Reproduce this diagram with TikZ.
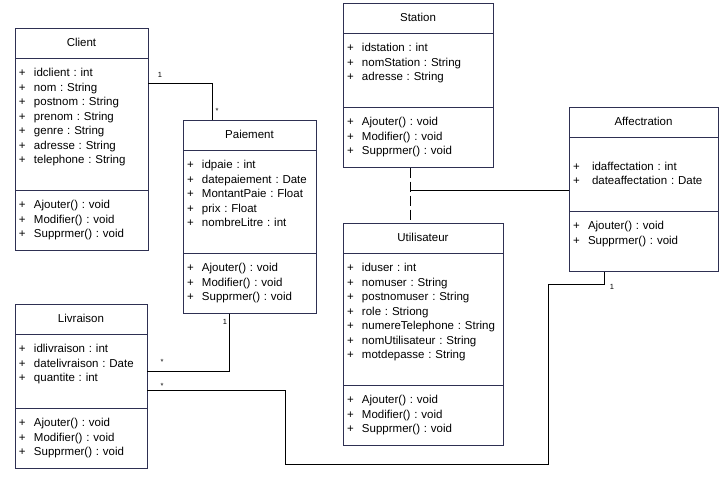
\documentclass[tikz,border=0pt]{standalone}
\usepackage{fontspec}
\setmainfont{Liberation Sans}[BoldFont={Liberation Sans}]
\usepackage{pgf-umlcd}
\usetikzlibrary{positioning}

\definecolor{umlborder}{RGB}{46,48,82}
\def\umldrawcolor{umlborder}
\def\umlfillcolor{white}
\def\umltextcolor{black}

\protected\def\umlattr#1{\strut\makebox[15pt][l]{+}#1}
\protected\def\umlblank{\strut}

\tikzset{
  classbox/.style={inner xsep=4pt, inner ysep=7.5pt, line width=0.9pt,
    font=\fontsize{11.5}{14.5}\selectfont\frenchspacing\noindent\strut},
  multlabel/.style={font=\fontsize{7.5}{8}\selectfont, inner sep=0pt},
  assoc/.style={line width=0.8pt},
}

\begin{document}
\begin{tikzpicture}[x=1pt,y=-1pt]
\useasboundingbox (0,0) rectangle (723,477);

\begin{class}[classbox, text width=125pt]{Client}{81.5,28}
\attribute {\umlattr{idclient : int}}
\attribute {\umlattr{nom : String}}
\attribute {\umlattr{postnom : String}}
\attribute {\umlattr{prenom : String}}
\attribute {\umlattr{genre : String}}
\attribute {\umlattr{adresse : String}}
\attribute {\umlattr{telephone : String}}
\attribute {\umlblank}

\operation {\umlattr{Ajouter() : void}}
\operation {\umlattr{Modifier() : void}}
\operation {\umlattr{Supprmer() : void}}
\end{class}

\begin{class}[classbox, text width=125pt]{Paiement}{249.5,120}
\attribute {\umlattr{idpaie : int}}
\attribute {\umlattr{datepaiement : Date}}
\attribute {\umlattr{MontantPaie : Float}}
\attribute {\umlattr{prix : Float}}
\attribute {\umlattr{nombreLitre : int}}
\attribute {\umlblank}

\operation {\umlattr{Ajouter() : void}}
\operation {\umlattr{Modifier() : void}}
\operation {\umlattr{Supprmer() : void}}
\end{class}

\begin{class}[classbox, text width=142pt]{Station}{418,3}
\attribute {\umlattr{idstation : int}}
\attribute {\umlattr{nomStation : String}}
\attribute {\umlattr{adresse : String}}
\attribute {\umlblank}

\operation {\umlattr{Ajouter() : void}}
\operation {\umlattr{Modifier() : void}}
\operation {\umlattr{Supprmer() : void}}
\end{class}

\begin{class}[classbox, text width=152pt]{Utilisateur}{423,223}
\attribute {\umlattr{iduser : int}}
\attribute {\umlattr{nomuser : String}}
\attribute {\umlattr{postnomuser : String}}
\attribute {\umlattr{role : Striong}}
\attribute {\umlattr{numereTelephone : String}}
\attribute {\umlattr{nomUtilisateur : String}}
\attribute {\umlattr{motdepasse : String}}
\attribute {\umlblank}

\operation {\umlattr{Ajouter() : void}}
\operation {\umlattr{Modifier() : void}}
\operation {\umlattr{Supprmer() : void}}
\end{class}

\begin{class}[classbox, text width=141pt]{Affectration}{643.5,107}
\attribute {\umlblank}
\attribute {\umlattr{\hspace{4pt}idaffectation : int}}
\attribute {\umlattr{\hspace{4pt}dateaffectation : Date}}
\attribute {\umlblank}

\operation {\umlattr{Ajouter() : void}}
\operation {\umlattr{Supprmer() : void}}
\operation {\umlblank}
\end{class}

\begin{class}[classbox, text width=124pt]{Livraison}{81,304}
\attribute {\umlattr{idlivraison : int}}
\attribute {\umlattr{datelivraison : Date}}
\attribute {\umlattr{quantite : int}}
\attribute {\umlblank}

\operation {\umlattr{Ajouter() : void}}
\operation {\umlattr{Modifier() : void}}
\operation {\umlattr{Supprmer() : void}}
\end{class}

% bends of the connectors
\coordinate (cpbend) at (212,83);
\coordinate (plbend) at (229,371);
\coordinate (labend) at (285,390);
\coordinate (labottom) at (548,464);
\coordinate (laup) at (604,284);
\coordinate (subend) at (410,190);

\draw[assoc] (Client.east |- cpbend) -- (cpbend) -- (Paiement.north -| cpbend);
\draw[assoc] (Paiement.south -| plbend) -- (plbend) -- (Livraison.east |- plbend);
\draw[assoc] (Livraison.east |- labend) -- (labend) |- (labottom) |- (laup)
  -- (Affectration.south -| laup);
\draw[assoc, dash pattern=on 10pt off 4pt] (Station.south -| subend)
  -- (Utilisateur.north -| subend);
\draw[assoc] (subend) -- (Affectration.west |- subend);

\node[multlabel] (m1) at (160,75) {1};
\node[multlabel] (m2) at (217,111) {*};
\node[multlabel] (m3) at (225,322) {1};
\node[multlabel] (m4) at (162,362) {*};
\node[multlabel] (m5) at (162,386) {*};
\node[multlabel] (m6) at (612,287) {1};
\end{tikzpicture}
\end{document}
